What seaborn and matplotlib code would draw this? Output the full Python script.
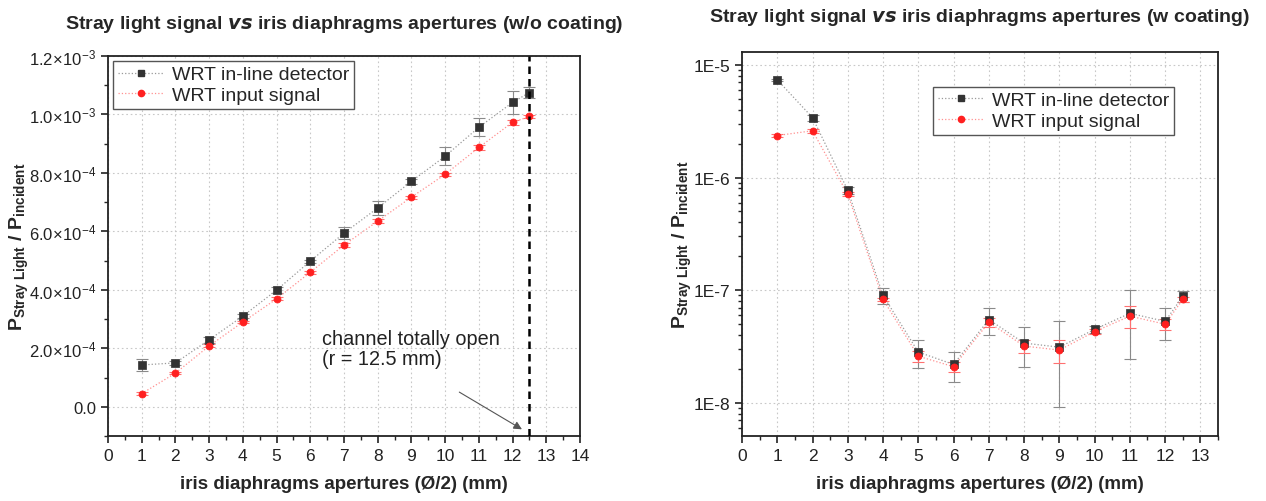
import numpy as np
import pandas as pd
import matplotlib
matplotlib.use("Agg")
import matplotlib.pyplot as plt
import seaborn as sns
from matplotlib.ticker import FixedLocator, MultipleLocator, FuncFormatter, LogLocator, NullFormatter

# ---- data ----
aperture = [1, 2, 3, 4, 5, 6, 7, 8, 9, 10, 11, 12, 12.5]

# without coating (linear scale)
nocoat_inline = [1.43e-4, 1.50e-4, 2.29e-4, 3.10e-4, 3.99e-4, 4.98e-4, 5.94e-4,
                 6.80e-4, 7.71e-4, 8.57e-4, 9.56e-4, 1.041e-3, 1.075e-3]
nocoat_inline_err = [2.0e-5, 0.6e-5, 1.0e-5, 0.8e-5, 1.0e-5, 0.5e-5, 2.0e-5,
                     2.4e-5, 0.8e-5, 3.0e-5, 3.1e-5, 3.8e-5, 1.8e-5]
nocoat_input = [4.5e-5, 1.15e-4, 2.08e-4, 2.90e-4, 3.69e-4, 4.60e-4, 5.53e-4,
                6.35e-4, 7.17e-4, 7.95e-4, 8.87e-4, 9.73e-4, 9.93e-4]
nocoat_input_err = [0.4e-5, 0.4e-5, 0.5e-5, 0.5e-5, 0.5e-5, 0.5e-5, 0.6e-5,
                    0.6e-5, 0.5e-5, 0.6e-5, 0.7e-5, 0.8e-5, 0.6e-5]

# with coating (log scale)
coat_inline = [7.36e-6, 3.40e-6, 7.7e-7, 9.0e-8, 2.83e-8, 2.2e-8, 5.5e-8,
               3.4e-8, 3.13e-8, 4.5e-8, 6.25e-8, 5.3e-8, 8.85e-8]
coat_inline_err = [0.2e-6, 0.2e-6, 0.05e-6, 1.4e-8, 0.8e-8, 0.65e-8, 1.5e-8,
                   1.3e-8, 2.2e-8, 0.3e-8, 3.8e-8, 1.7e-8, 1.0e-8]
coat_input = [2.36e-6, 2.60e-6, 7.1e-7, 8.3e-8, 2.6e-8, 2.1e-8, 5.2e-8,
              3.2e-8, 2.95e-8, 4.3e-8, 5.9e-8, 5.0e-8, 8.3e-8]
coat_input_err = [0.05e-6, 0.1e-6, 0.03e-6, 0.3e-8, 0.3e-8, 0.2e-8, 0.5e-8,
                  0.4e-8, 0.7e-8, 0.2e-8, 1.3e-8, 0.6e-8, 0.4e-8]

inline_label = "WRT in-line detector"
input_label = "WRT input signal"
xlabel = "iris diaphragms apertures (\u00d8/2) (mm)"
ylabel = r"$\mathbf{P}_{\mathbf{Stray\ Light}}\ \mathbf{/\ P}_{\mathbf{incident}}$"

sns.set_style("ticks")
plt.rcParams["font.family"] = ["Liberation Sans", "DejaVu Sans"]
plt.rcParams["mathtext.fontset"] = "custom"
plt.rcParams["mathtext.rm"] = "Liberation Sans"
plt.rcParams["mathtext.it"] = "Liberation Sans:italic"
plt.rcParams["mathtext.bf"] = "Liberation Sans:bold"

fig = plt.figure(figsize=(12.66, 5.02), dpi=100)
ax1 = fig.add_axes([0.0853, 0.1295, 0.3728, 0.757])
ax2 = fig.add_axes([0.5861, 0.1295, 0.376, 0.765])

black = "#333333"
red = "#ff2020"


def draw_series(ax, x, y, err, color, marker, line_color, err_color):
    df = pd.DataFrame({"x": x, "y": y})
    ax.errorbar(x, y, yerr=err, fmt="none", ecolor=err_color, elinewidth=0.8,
                capsize=4, capthick=0.8, zorder=2)
    sns.lineplot(data=df, x="x", y="y", ax=ax, color=line_color, linestyle=":",
                 linewidth=0.9, zorder=3, legend=False)
    sns.scatterplot(data=df, x="x", y="y", ax=ax, color=color, marker=marker,
                    s=26, edgecolor=color, linewidth=0.5, zorder=4, legend=False)


def legend_handles():
    h1 = plt.Line2D([], [], color="#999999", linestyle=":", linewidth=0.9,
                    marker="s", markersize=4, markerfacecolor=black,
                    markeredgecolor=black, label=inline_label)
    h2 = plt.Line2D([], [], color="#ff9090", linestyle=":", linewidth=0.9,
                    marker="o", markersize=4.5, markerfacecolor=red,
                    markeredgecolor=red, label=input_label)
    return [h1, h2]


def style_axes(ax, label_x):
    for s in ax.spines.values():
        s.set_linewidth(1.3)
        s.set_color("#222222")
    ax.grid(True, which="major", linestyle=(0, (1.5, 2.5)), color="#c8c8c8", linewidth=0.8)
    ax.tick_params(axis="both", which="major", direction="out", length=5, width=1.2,
                   labelsize=12.5, colors="#222222")
    ax.tick_params(axis="both", which="minor", direction="out", length=3, width=1.0)
    ax.set_xlabel(xlabel, fontsize=13.5, fontweight="bold", labelpad=9)
    ax.set_ylabel(ylabel, fontsize=14)
    ax.yaxis.set_label_coords(label_x, 0.5)


# ---- left: without coating ----
draw_series(ax1, aperture, nocoat_inline, nocoat_inline_err, black, "s",
            "#9a9a9a", "#8a8a8a")
draw_series(ax1, aperture, nocoat_input, nocoat_input_err, red, "o",
            "#ff9090", "#ff7070")
ax1.axvline(12.5, color="black", linestyle=(0, (3, 2)), linewidth=1.8, zorder=5)
ax1.set_xlim(0, 14)
ax1.set_ylim(-1e-4, 1.2e-3)
ax1.xaxis.set_major_locator(MultipleLocator(1))
ax1.xaxis.set_minor_locator(MultipleLocator(0.5))
ax1.yaxis.set_major_locator(FixedLocator([0, 2e-4, 4e-4, 6e-4, 8e-4, 1e-3, 1.2e-3]))
ax1.yaxis.set_minor_locator(MultipleLocator(1e-4))


def sci_fmt(v, pos):
    if abs(v) < 1e-12:
        return "0.0"
    exp = int(np.floor(np.log10(abs(v))))
    mant = v / 10 ** exp
    return r"$%.1f\!\times\!10^{%d}$" % (mant, exp)


ax1.yaxis.set_major_formatter(FuncFormatter(sci_fmt))
style_axes(ax1, -0.163)
ax1.tick_params(axis="y", which="major", labelsize=12)
ax1.set_title(r"Stray light signal $\mathbfit{vs}$ iris diaphragms apertures (w/o coating)",
              fontsize=14, fontweight="bold", pad=20)
ax1.legend(handles=legend_handles(), loc="upper left", fontsize=14, frameon=True,
           fancybox=False, edgecolor="#555555", framealpha=1, borderaxespad=0.25,
           handlelength=2.4, handletextpad=0.4, borderpad=0.25, labelspacing=0.15)
ax1.annotate("", xy=(12.35, -8.2e-5), xytext=(10.35, 5.5e-5),
             arrowprops=dict(arrowstyle="-|>", color="#555555", lw=0.8,
                             mutation_scale=12, facecolor="black"))
ax1.text(6.35, 2.0e-4, "channel totally open\n(r = 12.5 mm)", fontsize=14.3,
         ha="left", va="center", color="#222222", linespacing=1.1)

# ---- right: with coating ----
draw_series(ax2, aperture, coat_inline, coat_inline_err, black, "s",
            "#9a9a9a", "#8a8a8a")
draw_series(ax2, aperture, coat_input, coat_input_err, red, "o",
            "#ff9090", "#ff7070")
ax2.set_yscale("log")
ax2.set_xlim(0, 13.5)
ax2.set_ylim(5.1e-9, 1.3e-5)
ax2.xaxis.set_major_locator(MultipleLocator(1))
ax2.xaxis.set_minor_locator(MultipleLocator(0.5))
ax2.yaxis.set_major_locator(FixedLocator([1e-8, 1e-7, 1e-6, 1e-5]))
ax2.yaxis.set_major_formatter(FuncFormatter(lambda v, p: "1E%d" % int(round(np.log10(v)))))
ax2.yaxis.set_minor_locator(LogLocator(base=10, subs=np.arange(2, 10)))
ax2.yaxis.set_minor_formatter(NullFormatter())
style_axes(ax2, -0.1)
ax2.set_title(r"Stray light signal $\mathbfit{vs}$ iris diaphragms apertures (w coating)",
              fontsize=14, fontweight="bold", pad=22)
ax2.legend(handles=legend_handles(), loc="upper right", fontsize=14, frameon=True,
           fancybox=False, edgecolor="#555555", framealpha=1,
           bbox_to_anchor=(0.929, 0.935), handlelength=2.4, handletextpad=0.4,
           borderpad=0.25, labelspacing=0.15)

fig.savefig("out.png", dpi=100)
